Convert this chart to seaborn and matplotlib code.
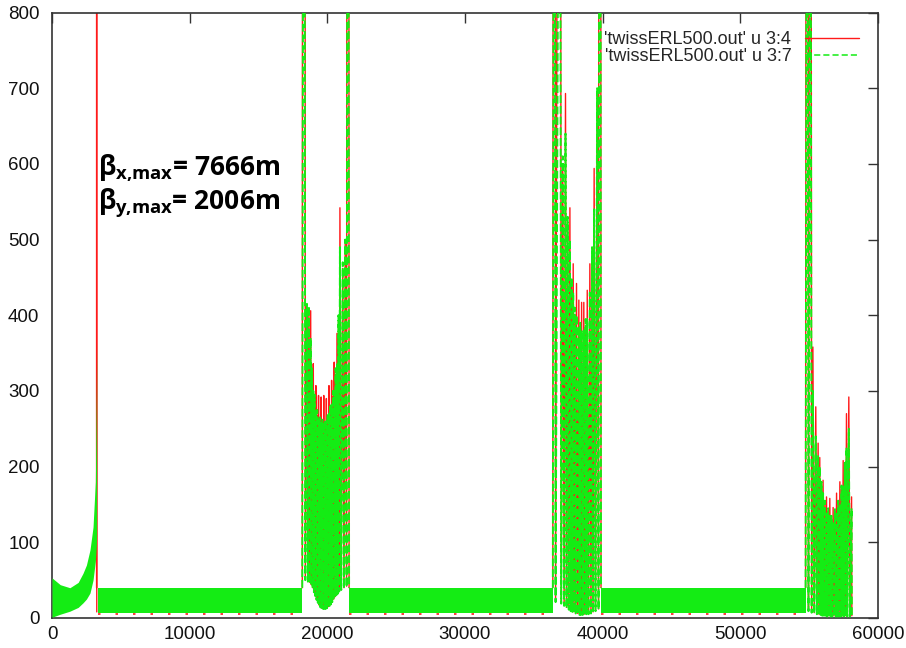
import matplotlib
matplotlib.use("Agg")
import matplotlib.pyplot as plt
import seaborn as sns
from matplotlib.lines import Line2D

# ---------------- data ----------------
x_ticks = [0, 10000, 20000, 30000, 40000, 50000, 60000]
y_ticks = [0, 100, 200, 300, 400, 500, 600, 700, 800]
legend_labels = ["'twissERL500.out' u 3:4", "'twissERL500.out' u 3:7"]

# first section (dense oscillation, drawn as its envelope)
secA_s = [0, 600, 1300, 1900, 2250, 2500, 2760, 2980, 3150, 3220, 3245]
secA_lo = [1, 5, 9, 14, 20, 25, 33, 50, 75, 95, 110]
secA_hi = [53, 44, 40, 47, 59, 70, 90, 120, 180, 300, 365]
spikeA_s = [3238, 3245, 3252]
spikeA_bx = [40, 7666, 8]

# long straight sections (dense FODO oscillation, envelope)
bandB_s = [3330, 18180]
bandC_s = [21580, 36380]
bandD_s = [39880, 54740]
band_lo = [7, 7]
band_hi = [40, 40]
band_red_min = [5, 5]

# arc 1
arc1_s = [18180, 18300, 18400, 18520, 18590, 18660, 18725, 18790, 18837, 18885,
          18932, 18980, 19027, 19075, 19122, 19170, 19217, 19265, 19312, 19360,
          19407, 19455, 19502, 19550, 19597, 19645, 19692, 19740, 19787, 19835,
          19882, 19930, 19977, 20025, 20072, 20120, 20167, 20215, 20262, 20310,
          20357, 20405, 20452, 20500, 20550, 20600, 20650, 20700, 20755, 20810,
          20862, 20915, 21010, 21120, 21210, 21300, 21400, 21500, 21580]
arc1_bx = [40, 7666, 52, 410, 50, 405, 47, 406, 44, 322,
           40, 336, 35, 288, 30, 307, 25, 268, 21, 294,
           17, 258, 15, 292, 13, 255, 13, 294, 13, 255,
           13, 290, 14, 263, 15, 307, 17, 275, 19, 314,
           22, 292, 25, 338, 28, 322, 31, 376, 33, 392,
           36, 542, 38, 462, 40, 495, 42, 6000, 40]
arc1_by = [40, 2006, 50, 415, 48, 412, 46, 370, 43, 330,
           39, 300, 34, 295, 29, 275, 24, 275, 20, 262,
           16, 265, 14, 258, 12, 262, 12, 258, 12, 262,
           12, 260, 13, 270, 14, 270, 16, 282, 18, 282,
           21, 300, 24, 300, 27, 330, 30, 335, 32, 400,
           35, 490, 37, 470, 39, 500, 41, 1900, 40]

# arc 2
arc2_s = [36380, 36480, 36580, 36890, 36990, 37100, 37200, 37300, 37380, 37460,
          37540, 37620, 37680, 37740, 37800, 37860, 37920, 37980, 38040, 38100,
          38185, 38270, 38320, 38370, 38420, 38470, 38550, 38630, 38700, 38760,
          38820, 38880, 38975, 39070, 39150, 39230, 39300, 39380, 39480, 39600,
          39700, 39800, 39880]
arc2_bx = [40, 5000, 22, 2500, 20, 600, 17, 693, 14, 520,
           12, 542, 10, 440, 9, 468, 8, 400, 7, 442,
           6, 420, 5, 380, 5, 417, 5, 417, 5, 385,
           6, 433, 6, 468, 7, 480, 8, 594, 10, 690,
           12, 5000, 40]
arc2_by = [40, 1800, 21, 1500, 19, 610, 16, 640, 13, 530,
           11, 500, 9, 450, 8, 430, 7, 410, 6, 400,
           5, 385, 4, 390, 4, 380, 4, 380, 4, 395,
           5, 395, 5, 430, 6, 490, 7, 540, 9, 700,
           11, 2000, 40]

# arc 3
arc3_s = [54740, 54850, 54950, 55100, 55180, 55270, 55370, 55480, 55560, 55650,
          55710, 55770, 55830, 55890, 55950, 56010, 56075, 56140, 56200, 56260,
          56320, 56380, 56440, 56500, 56560, 56620, 56680, 56740, 56800, 56870,
          56930, 56990, 57050, 57110, 57170, 57230, 57290, 57350, 57410, 57470,
          57530, 57590, 57650, 57710, 57770, 57880, 57960, 58080, 58100]
arc3_bx = [40, 4000, 10, 2500, 8, 358, 7, 279, 6, 231,
           5, 212, 5, 175, 4, 182, 4, 150, 4, 160,
           3, 140, 3, 158, 3, 130, 3, 146, 3, 140,
           3, 165, 3, 150, 3, 180, 3, 170, 3, 208,
           3, 200, 3, 270, 3, 292, 3, 160, 3]
arc3_by = [40, 1500, 9, 1200, 7, 300, 6, 240, 5, 215,
           4, 200, 4, 180, 3, 165, 3, 155, 3, 140,
           2, 145, 2, 135, 2, 135, 2, 125, 2, 145,
           2, 140, 2, 155, 2, 150, 2, 175, 2, 175,
           2, 205, 2, 225, 2, 250, 2, 145, 2]

# ---------------- style ----------------
RED = "#ff1a1a"
GREEN = "#14ec14"
AXC = "#333333"

sns.set_theme(style="white")
plt.rcParams["font.family"] = ["Liberation Sans", "DejaVu Sans"]
plt.rcParams["mathtext.fontset"] = "custom"
plt.rcParams["mathtext.rm"] = "Open Sans:bold"
plt.rcParams["mathtext.it"] = "Open Sans:bold"
plt.rcParams["mathtext.bf"] = "Open Sans:bold"
plt.rcParams["mathtext.sf"] = "Open Sans:bold"

fig = plt.figure(figsize=(9.06, 6.48), dpi=100)
ax = fig.add_axes([52 / 906, 30 / 648, 826 / 906, 605.5 / 648])

# red (beta_x) first
for s, b in [(spikeA_s, spikeA_bx), (arc1_s, arc1_bx), (arc2_s, arc2_bx), (arc3_s, arc3_bx)]:
    sns.lineplot(x=s, y=b, color=RED, lw=1.0, estimator=None, sort=False, ax=ax)

# green (beta_y) dense envelopes
ax.fill_between(secA_s, secA_lo, secA_hi, color=GREEN, lw=0, zorder=3)
for bs in [bandB_s, bandC_s, bandD_s]:
    ax.fill_between(bs, band_lo, band_hi, color=GREEN, lw=0, zorder=3)

# green dashed arcs on top
for s, b in [(arc1_s, arc1_by), (arc2_s, arc2_by), (arc3_s, arc3_by)]:
    sns.lineplot(x=s, y=b, color=GREEN, lw=1.4, linestyle=(0, (4, 1.5)),
                 estimator=None, sort=False, ax=ax, zorder=4)

# red traces peeking below the dense bands
for bs in [bandB_s, bandC_s, bandD_s]:
    sns.lineplot(x=bs, y=band_red_min, color=RED, lw=1.2, linestyle=(0, (1.5, 9)),
                 estimator=None, sort=False, ax=ax, zorder=5)

# ---------------- axes ----------------
ax.set_xlim(0, 60000)
ax.set_ylim(0, 800)
ax.set_xticks(x_ticks)
ax.set_yticks(y_ticks)
ax.set_xticklabels([str(v) for v in x_ticks])
ax.set_yticklabels([str(v) for v in y_ticks])
ax.tick_params(direction="in", length=7, width=1.0, color=AXC,
               top=True, right=True, labelsize=13.5, labelcolor="#111111")
ax.tick_params(axis="y", pad=9)
ax.tick_params(axis="x", pad=6)
for sp in ax.spines.values():
    sp.set_color(AXC)
    sp.set_linewidth(1.2)
    sp.set_visible(True)
ax.grid(False)
ax.set_xlabel("")
ax.set_ylabel("")

# legend (gnuplot style: text then sample)
handles = [Line2D([], [], color=RED, lw=1.0),
           Line2D([], [], color=GREEN, lw=1.1, linestyle=(0, (4, 2)))]
ax.legend(handles, legend_labels, loc="upper right", frameon=False,
          markerfirst=False, fontsize=13, handlelength=3.0,
          handletextpad=0.75, labelspacing=-0.02, borderaxespad=0.75,
          borderpad=0.3)

# annotation
ax.text(46 / 826, (618 - 176) / 605.5, r"$\beta_{x{,}max}$= 7666m", transform=ax.transAxes,
        fontsize=19, fontfamily="Open Sans", fontweight="bold", va="baseline",
        ha="left", color="black", zorder=6)
ax.text(46 / 826, (618 - 210) / 605.5, r"$\beta_{y{,}max}$= 2006m", transform=ax.transAxes,
        fontsize=19, fontfamily="Open Sans", fontweight="bold", va="baseline",
        ha="left", color="black", zorder=6)

fig.savefig("out.png", dpi=100)
